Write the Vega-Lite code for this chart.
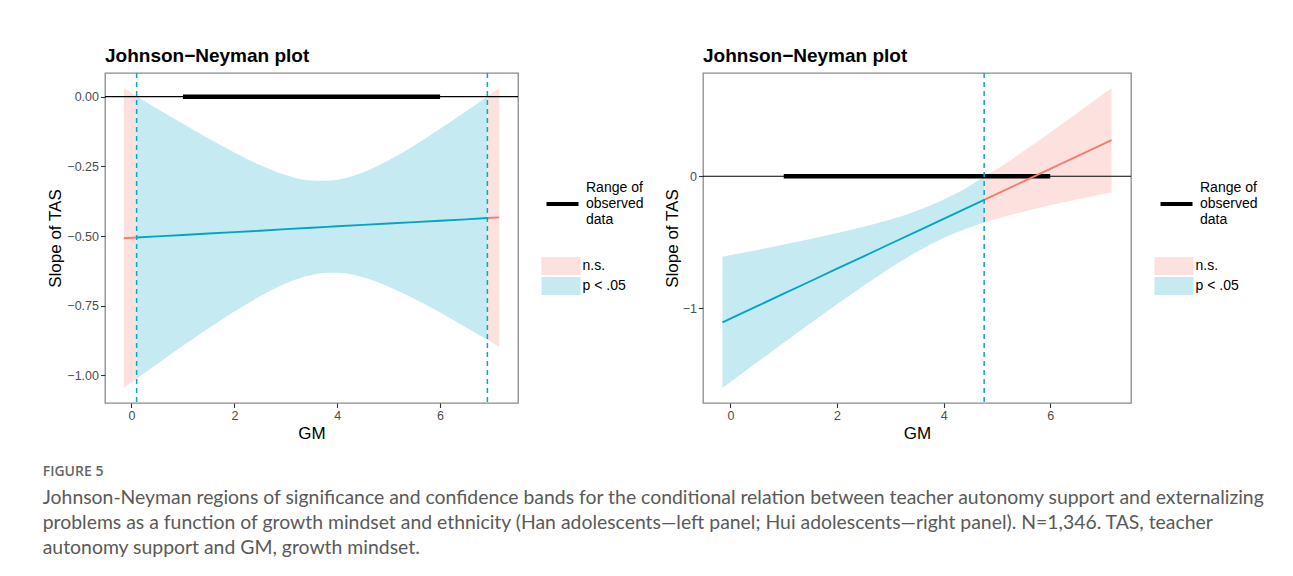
{
  "$schema": "https://vega.github.io/schema/vega-lite/v6.json",
  "background": "white",
  "padding": {"left": 42, "top": 46, "right": 5, "bottom": 10},
  "bounds": "flush",
  "spacing": 185,
  "datasets": {
    "han": [
      {"x": -0.15, "est": -0.508, "lo": -1.045, "up": 0.030, "sig": "n.s.", "seg": "a"},
      {"x": 0.1, "est": -0.505, "lo": -1.012, "up": 0.002, "sig": "n.s.", "seg": "a"},
      {"x": 0.1, "est": -0.505, "lo": -1.012, "up": 0.002, "sig": "p < .05", "seg": "b"},
      {"x": 0.5, "est": -0.501, "lo": -0.959, "up": -0.043, "sig": "p < .05", "seg": "b"},
      {"x": 1.0, "est": -0.496, "lo": -0.894, "up": -0.097, "sig": "p < .05", "seg": "b"},
      {"x": 1.5, "est": -0.491, "lo": -0.831, "up": -0.150, "sig": "p < .05", "seg": "b"},
      {"x": 2.0, "est": -0.486, "lo": -0.771, "up": -0.200, "sig": "p < .05", "seg": "b"},
      {"x": 2.5, "est": -0.481, "lo": -0.716, "up": -0.245, "sig": "p < .05", "seg": "b"},
      {"x": 3.0, "est": -0.475, "lo": -0.670, "up": -0.281, "sig": "p < .05", "seg": "b"},
      {"x": 3.5, "est": -0.470, "lo": -0.640, "up": -0.301, "sig": "p < .05", "seg": "b"},
      {"x": 3.8, "est": -0.467, "lo": -0.632, "up": -0.302, "sig": "p < .05", "seg": "b"},
      {"x": 4.0, "est": -0.465, "lo": -0.632, "up": -0.298, "sig": "p < .05", "seg": "b"},
      {"x": 4.5, "est": -0.460, "lo": -0.648, "up": -0.272, "sig": "p < .05", "seg": "b"},
      {"x": 5.0, "est": -0.455, "lo": -0.682, "up": -0.228, "sig": "p < .05", "seg": "b"},
      {"x": 5.5, "est": -0.450, "lo": -0.725, "up": -0.175, "sig": "p < .05", "seg": "b"},
      {"x": 6.0, "est": -0.445, "lo": -0.774, "up": -0.115, "sig": "p < .05", "seg": "b"},
      {"x": 6.5, "est": -0.440, "lo": -0.827, "up": -0.053, "sig": "p < .05", "seg": "b"},
      {"x": 6.92, "est": -0.435, "lo": -0.872, "up": 0.001, "sig": "p < .05", "seg": "b"},
      {"x": 6.92, "est": -0.435, "lo": -0.872, "up": 0.001, "sig": "n.s.", "seg": "c"},
      {"x": 7.15, "est": -0.433, "lo": -0.898, "up": 0.031, "sig": "n.s.", "seg": "c"}
    ],
    "hanJN": [{"x": 0.1}, {"x": 6.92}],
    "hui": [
      {"x": -0.15, "est": -1.106, "lo": -1.604, "up": -0.609, "sig": "p < .05", "seg": "a"},
      {"x": 0.5, "est": -0.984, "lo": -1.409, "up": -0.558, "sig": "p < .05", "seg": "a"},
      {"x": 1.0, "est": -0.889, "lo": -1.261, "up": -0.517, "sig": "p < .05", "seg": "a"},
      {"x": 1.5, "est": -0.795, "lo": -1.114, "up": -0.475, "sig": "p < .05", "seg": "a"},
      {"x": 2.0, "est": -0.700, "lo": -0.970, "up": -0.430, "sig": "p < .05", "seg": "a"},
      {"x": 2.5, "est": -0.606, "lo": -0.829, "up": -0.382, "sig": "p < .05", "seg": "a"},
      {"x": 3.0, "est": -0.511, "lo": -0.695, "up": -0.328, "sig": "p < .05", "seg": "a"},
      {"x": 3.5, "est": -0.417, "lo": -0.572, "up": -0.261, "sig": "p < .05", "seg": "a"},
      {"x": 4.0, "est": -0.322, "lo": -0.468, "up": -0.176, "sig": "p < .05", "seg": "a"},
      {"x": 4.5, "est": -0.228, "lo": -0.386, "up": -0.070, "sig": "p < .05", "seg": "a"},
      {"x": 4.76, "est": -0.178, "lo": -0.350, "up": 0.000, "sig": "p < .05", "seg": "a"},
      {"x": 4.76, "est": -0.178, "lo": -0.350, "up": 0.000, "sig": "n.s.", "seg": "b"},
      {"x": 5.0, "est": -0.133, "lo": -0.321, "up": 0.055, "sig": "n.s.", "seg": "b"},
      {"x": 5.5, "est": -0.039, "lo": -0.268, "up": 0.191, "sig": "n.s.", "seg": "b"},
      {"x": 6.0, "est": 0.056, "lo": -0.220, "up": 0.332, "sig": "n.s.", "seg": "b"},
      {"x": 6.5, "est": 0.151, "lo": -0.176, "up": 0.477, "sig": "n.s.", "seg": "b"},
      {"x": 7.0, "est": 0.245, "lo": -0.134, "up": 0.624, "sig": "n.s.", "seg": "b"},
      {"x": 7.15, "est": 0.273, "lo": -0.122, "up": 0.669, "sig": "n.s.", "seg": "b"}
    ],
    "huiJN": [{"x": 4.76}],
    "range": [{"from": 1, "to": 6, "label": "Range of observed data"}]
  },
  "title": {
    "text": "FIGURE 5",
    "subtitle": [
      "Johnson-Neyman regions of significance and confidence bands for the conditional relation between teacher autonomy support and externalizing",
      "problems as a function of growth mindset and ethnicity (Han adolescents—left panel; Hui adolescents—right panel). N=1,346. TAS, teacher",
      "autonomy support and GM, growth mindset."
    ],
    "orient": "bottom",
    "anchor": "start",
    "frame": "bounds",
    "dx": -3,
    "offset": 23,
    "font": "Open Sans",
    "fontSize": 14,
    "fontWeight": 600,
    "color": "#666666",
    "subtitleFont": "Lato",
    "subtitleFontSize": 19.4,
    "subtitleFontWeight": "normal",
    "subtitleColor": "#5a5a5a",
    "subtitleLineHeight": 25,
    "subtitlePadding": 10
  },
  "hconcat": [
    {
      "width": 413,
      "height": 330,
      "title": {"text": "Johnson−Neyman plot", "anchor": "start", "frame": "group", "font": "Liberation Sans", "fontSize": 19, "fontWeight": "bold", "color": "black", "offset": 6},
      "layer": [
        {
          "data": {"name": "han"},
          "mark": {"type": "area", "interpolate": "monotone"},
          "encoding": {
            "x": {"field": "x", "type": "quantitative", "scale": {"domain": [-0.515, 7.515], "nice": false, "zero": false}, "axis": {"title": "GM", "values": [0, 2, 4, 6], "titlePadding": 3}},
            "y": {"field": "lo", "type": "quantitative", "scale": {"domain": [-1.099, 0.085], "nice": false, "zero": false}, "axis": {"title": "Slope of TAS", "values": [-1, -0.75, -0.5, -0.25, 0], "format": ".2f", "titlePadding": 2.5}},
            "y2": {"field": "up"},
            "fill": {"field": "sig", "type": "nominal", "scale": {"domain": ["n.s.", "p < .05"], "range": ["#fde1de", "#c6eaf2"]},
              "legend": {"title": null, "orient": "none", "legendX": 447, "legendY": 184, "symbolType": "M-2.17,-1H2.17V1H-2.17Z", "symbolSize": 324, "symbolStrokeWidth": 0, "rowPadding": 2, "labelOffset": 12.5,
                "encode": {"symbols": {"update": {"fill": {"signal": "datum.value === 'n.s.' ? '#ffbdb3' : '#5fcddf'"}, "opacity": {"value": 1}, "fillOpacity": {"value": 1}}}}}},
            "detail": {"field": "seg"}
          }
        },
        {
          "data": {"name": "range"},
          "mark": {"type": "rule", "color": "black", "strokeWidth": 1.2},
          "encoding": {"y": {"datum": 0, "type": "quantitative", "scale": {"domain": [-1.099, 0.085], "nice": false, "zero": false}, "axis": {"title": "Slope of TAS", "values": [-1, -0.75, -0.5, -0.25, 0], "format": ".2f", "titlePadding": 2.5}}}
        },
        {
          "data": {"name": "range"},
          "mark": {"type": "rule", "strokeWidth": 4.5},
          "encoding": {
            "x": {"field": "from", "type": "quantitative", "scale": {"domain": [-0.515, 7.515], "nice": false, "zero": false}, "axis": {"title": "GM", "values": [0, 2, 4, 6], "titlePadding": 3}},
            "x2": {"field": "to"},
            "y": {"datum": 0, "type": "quantitative", "scale": {"domain": [-1.099, 0.085], "nice": false, "zero": false}, "axis": {"title": "Slope of TAS", "values": [-1, -0.75, -0.5, -0.25, 0], "format": ".2f", "titlePadding": 2.5}},
            "color": {"field": "label", "type": "nominal", "scale": {"range": ["black"]},
              "legend": {"title": null, "orient": "none", "legendX": 439.5, "legendY": 113, "symbolType": "stroke", "symbolSize": 1024, "symbolStrokeWidth": 4, "labelOffset": 5.5, "labelExpr": "['Range of', 'observed', 'data']",
                "encode": {"labels": {"update": {"lineHeight": {"value": 16}, "dy": {"value": -16}}}}}}
          }
        },
        {
          "data": {"name": "han"},
          "mark": {"type": "line", "strokeWidth": 1.9},
          "encoding": {
            "x": {"field": "x", "type": "quantitative", "scale": {"domain": [-0.515, 7.515], "nice": false, "zero": false}, "axis": {"title": "GM", "values": [0, 2, 4, 6], "titlePadding": 3}},
            "y": {"field": "est", "type": "quantitative", "scale": {"domain": [-1.099, 0.085], "nice": false, "zero": false}, "axis": {"title": "Slope of TAS", "values": [-1, -0.75, -0.5, -0.25, 0], "format": ".2f", "titlePadding": 2.5}},
            "stroke": {"field": "sig", "type": "nominal", "scale": {"domain": ["n.s.", "p < .05"], "range": ["#f47c71", "#00a5c6"]}, "legend": null},
            "detail": {"field": "seg"}
          }
        },
        {
          "data": {"name": "hanJN"},
          "mark": {"type": "rule", "color": "#00a9c8", "strokeWidth": 1.5, "strokeDash": [5, 4]},
          "encoding": {"x": {"field": "x", "type": "quantitative", "scale": {"domain": [-0.515, 7.515], "nice": false, "zero": false}, "axis": {"title": "GM", "values": [0, 2, 4, 6], "titlePadding": 3}}}
        }
      ],
      "resolve": {"scale": {"color": "independent", "fill": "independent", "stroke": "independent"}}
    },
    {
      "width": 428,
      "height": 330,
      "title": {"text": "Johnson−Neyman plot", "anchor": "start", "frame": "group", "font": "Liberation Sans", "fontSize": 19, "fontWeight": "bold", "color": "black", "offset": 6},
      "layer": [
        {
          "data": {"name": "hui"},
          "mark": {"type": "area", "interpolate": "monotone"},
          "encoding": {
            "x": {"field": "x", "type": "quantitative", "scale": {"domain": [-0.515, 7.515], "nice": false, "zero": false}, "axis": {"title": "GM", "values": [0, 2, 4, 6], "titlePadding": 3}},
            "y": {"field": "lo", "type": "quantitative", "scale": {"domain": [-1.717, 0.782], "nice": false, "zero": false}, "axis": {"title": "Slope of TAS", "values": [-1, 0], "format": "d", "titlePadding": 1}},
            "y2": {"field": "up"},
            "fill": {"field": "sig", "type": "nominal", "scale": {"domain": ["n.s.", "p < .05"], "range": ["#fde1de", "#c6eaf2"]},
              "legend": {"title": null, "orient": "none", "legendX": 462, "legendY": 184, "symbolType": "M-2.17,-1H2.17V1H-2.17Z", "symbolSize": 324, "symbolStrokeWidth": 0, "rowPadding": 2, "labelOffset": 12.5,
                "encode": {"symbols": {"update": {"fill": {"signal": "datum.value === 'n.s.' ? '#ffbdb3' : '#5fcddf'"}, "opacity": {"value": 1}, "fillOpacity": {"value": 1}}}}}},
            "detail": {"field": "seg"}
          }
        },
        {
          "data": {"name": "range"},
          "mark": {"type": "rule", "color": "black", "strokeWidth": 1.2},
          "encoding": {"y": {"datum": 0, "type": "quantitative", "scale": {"domain": [-1.717, 0.782], "nice": false, "zero": false}, "axis": {"title": "Slope of TAS", "values": [-1, 0], "format": "d", "titlePadding": 1}}}
        },
        {
          "data": {"name": "range"},
          "mark": {"type": "rule", "strokeWidth": 4.5},
          "encoding": {
            "x": {"field": "from", "type": "quantitative", "scale": {"domain": [-0.515, 7.515], "nice": false, "zero": false}, "axis": {"title": "GM", "values": [0, 2, 4, 6], "titlePadding": 3}},
            "x2": {"field": "to"},
            "y": {"datum": 0, "type": "quantitative", "scale": {"domain": [-1.717, 0.782], "nice": false, "zero": false}, "axis": {"title": "Slope of TAS", "values": [-1, 0], "format": "d", "titlePadding": 1}},
            "color": {"field": "label", "type": "nominal", "scale": {"range": ["black"]},
              "legend": {"title": null, "orient": "none", "legendX": 455.5, "legendY": 113, "symbolType": "stroke", "symbolSize": 1024, "symbolStrokeWidth": 4, "labelOffset": 5.5, "labelExpr": "['Range of', 'observed', 'data']",
                "encode": {"labels": {"update": {"lineHeight": {"value": 16}, "dy": {"value": -16}}}}}}
          }
        },
        {
          "data": {"name": "hui"},
          "mark": {"type": "line", "strokeWidth": 1.9},
          "encoding": {
            "x": {"field": "x", "type": "quantitative", "scale": {"domain": [-0.515, 7.515], "nice": false, "zero": false}, "axis": {"title": "GM", "values": [0, 2, 4, 6], "titlePadding": 3}},
            "y": {"field": "est", "type": "quantitative", "scale": {"domain": [-1.717, 0.782], "nice": false, "zero": false}, "axis": {"title": "Slope of TAS", "values": [-1, 0], "format": "d", "titlePadding": 1}},
            "stroke": {"field": "sig", "type": "nominal", "scale": {"domain": ["n.s.", "p < .05"], "range": ["#f47c71", "#00a5c6"]}, "legend": null},
            "detail": {"field": "seg"}
          }
        },
        {
          "data": {"name": "huiJN"},
          "mark": {"type": "rule", "color": "#00a9c8", "strokeWidth": 1.5, "strokeDash": [5, 4]},
          "encoding": {"x": {"field": "x", "type": "quantitative", "scale": {"domain": [-0.515, 7.515], "nice": false, "zero": false}, "axis": {"title": "GM", "values": [0, 2, 4, 6], "titlePadding": 3}}}
        }
      ],
      "resolve": {"scale": {"color": "independent", "fill": "independent", "stroke": "independent"}}
    }
  ],
  "config": {
    "view": {"stroke": "#8a8a8a", "strokeWidth": 1.3},
    "axis": {"grid": false, "domain": false, "labelFont": "Liberation Sans", "labelFontSize": 12.5, "labelColor": "#4d4d4d", "tickColor": "#333333", "tickSize": 4.5, "tickWidth": 1.1, "labelPadding": 2, "titleFont": "Liberation Sans", "titleFontSize": 17, "titleFontWeight": "normal", "titleColor": "black"},
    "legend": {"labelFont": "Liberation Sans", "labelFontSize": 14, "labelColor": "black", "padding": 0}
  }
}
